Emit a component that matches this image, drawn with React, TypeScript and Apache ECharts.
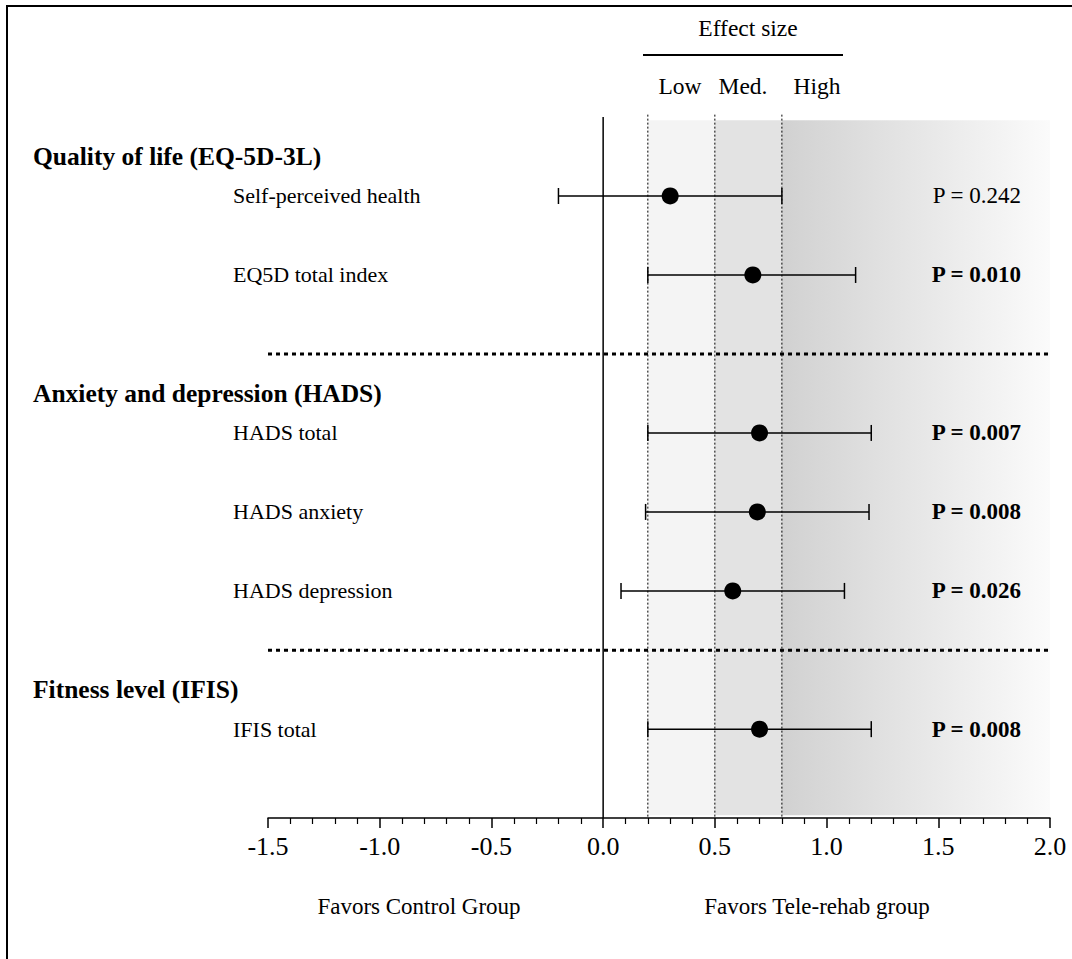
import React, { useEffect, useRef } from "react";
import * as echarts from "echarts";

// ---- data ----
const groupTitles = ["Quality of life (EQ-5D-3L)", "Anxiety and depression (HADS)", "Fitness level (IFIS)"];
const groupRowPos = [0.5, 3.5, 7.25];
const outcomes = ["Self-perceived health", "EQ5D total index", "HADS total", "HADS anxiety", "HADS depression", "IFIS total"];
const rowPos = [1, 2, 4, 5, 6, 7.75];
const separatorPos = [3, 6.75];
const effectSize = [0.30, 0.67, 0.70, 0.69, 0.58, 0.70];
const ciLower = [-0.20, 0.20, 0.20, 0.19, 0.08, 0.20];
const ciUpper = [0.80, 1.13, 1.20, 1.19, 1.08, 1.20];
const pValues = [0.242, 0.010, 0.007, 0.008, 0.026, 0.008];
const thresholds = [0.2, 0.5, 0.8];
const effectBands = [[0.2, 0.5], [0.5, 0.8], [0.8, 2.0]];
const effectLabels = ["Low", "Med.", "High"];
const xMin = -1.5;
const xMax = 2.0;
const xInterval = 0.5;
const yMax = 8.875;
const sideLabels = ["Favors Control Group", "Favors Tele-rehab group"];

const FONT = "'Liberation Serif', 'Times New Roman', Times, serif";

export default function App() {
  const ref = useRef<HTMLDivElement>(null);
  useEffect(() => {
    if (!ref.current) return;
    const chart = echarts.init(ref.current, null, { renderer: "svg" });
    const bandFills = [
      "#f4f4f4",
      "#e3e3e3",
      new echarts.graphic.LinearGradient(0, 0, 1, 0, [
        { offset: 0, color: "#d1d1d1" },
        { offset: 1, color: "#fbfbfb" },
      ]),
    ];
    const txt = (x: number, y: number, text: string, size: number) => ({
      type: "text",
      x,
      y,
      style: { text, fontSize: size, fontFamily: FONT, fill: "#000", align: "center", verticalAlign: "middle" },
    });
    const option: any = {
      animation: false,
      backgroundColor: "#ffffff",
      grid: { left: 268, right: 22, top: 117, bottom: 141 },
      xAxis: {
        type: "value",
        min: xMin,
        max: xMax,
        interval: xInterval,
        splitLine: { show: false },
        axisLine: { show: true, onZero: false, lineStyle: { color: "#000", width: 1.5 } },
        axisTick: { show: true, length: 10, lineStyle: { color: "#000", width: 1.5 } },
        minorTick: { show: true, splitNumber: 5, length: 6, lineStyle: { color: "#000", width: 1.2 } },
        axisLabel: {
          color: "#000",
          fontSize: 26,
          fontFamily: FONT,
          margin: 15,
          formatter: (v: number) => v.toFixed(1),
        },
      },
      yAxis: { type: "value", inverse: true, min: 0, max: yMax, show: false },
      series: [
        {
          type: "custom",
          z: 1,
          silent: true,
          data: effectBands.map((b, i) => [b[0], b[1], i]),
          renderItem: (params: any, api: any) => {
            const p0 = api.coord([api.value(0), 0.04]);
            const p1 = api.coord([api.value(1), 8.84]);
            return {
              type: "rect",
              shape: { x: p0[0], y: p0[1], width: p1[0] - p0[0], height: p1[1] - p0[1] },
              style: { fill: bandFills[params.dataIndex] },
            };
          },
        },
        {
          type: "custom",
          z: 2,
          silent: true,
          data: thresholds.map((t) => [t]),
          renderItem: (params: any, api: any) => {
            const p0 = api.coord([api.value(0), -0.03]);
            const p1 = api.coord([api.value(0), yMax]);
            return {
              type: "line",
              shape: { x1: p0[0], y1: p0[1], x2: p1[0], y2: p1[1] },
              style: { stroke: "#000", lineWidth: 1, lineDash: [2, 2] },
            };
          },
        },
        {
          type: "custom",
          z: 3,
          silent: true,
          data: [[0]],
          renderItem: (params: any, api: any) => {
            const p0 = api.coord([api.value(0), 0]);
            const p1 = api.coord([api.value(0), yMax]);
            return {
              type: "line",
              shape: { x1: p0[0], y1: p0[1], x2: p1[0], y2: p1[1] },
              style: { stroke: "#000", lineWidth: 1.5 },
            };
          },
        },
        {
          type: "custom",
          z: 3,
          silent: true,
          data: separatorPos.map((y) => [y]),
          renderItem: (params: any, api: any) => {
            const p0 = api.coord([xMin, api.value(0)]);
            const p1 = api.coord([xMax, api.value(0)]);
            return {
              type: "line",
              shape: { x1: p0[0], y1: p0[1], x2: p1[0], y2: p1[1] },
              style: { stroke: "#000", lineWidth: 3, lineDash: [4, 4] },
            };
          },
        },
        {
          type: "custom",
          z: 4,
          silent: true,
          data: outcomes.map((_, i) => [ciLower[i], ciUpper[i], rowPos[i]]),
          renderItem: (params: any, api: any) => {
            const y = api.value(2);
            const a = api.coord([api.value(0), y]);
            const b = api.coord([api.value(1), y]);
            const h = 8;
            const st = { stroke: "#000", lineWidth: 1.5 };
            return {
              type: "group",
              children: [
                { type: "line", shape: { x1: a[0], y1: a[1], x2: b[0], y2: b[1] }, style: st },
                { type: "line", shape: { x1: a[0], y1: a[1] - h, x2: a[0], y2: a[1] + h }, style: st },
                { type: "line", shape: { x1: b[0], y1: b[1] - h, x2: b[0], y2: b[1] + h }, style: st },
              ],
            };
          },
        },
        {
          type: "scatter",
          z: 5,
          symbol: "circle",
          symbolSize: 17,
          itemStyle: { color: "#000", opacity: 1 },
          data: effectSize.map((v, i) => [v, rowPos[i]]),
        },
        {
          type: "custom",
          z: 6,
          silent: true,
          data: outcomes.map((_, i) => [xMin, rowPos[i]]),
          renderItem: (params: any, api: any) => {
            const p = api.coord([api.value(0), api.value(1)]);
            return {
              type: "text",
              x: 233,
              y: p[1],
              style: {
                text: outcomes[params.dataIndex],
                fontSize: 22,
                fontFamily: FONT,
                fill: "#000",
                align: "left",
                verticalAlign: "middle",
              },
            };
          },
        },
        {
          type: "custom",
          z: 6,
          silent: true,
          data: groupTitles.map((_, i) => [xMin, groupRowPos[i]]),
          renderItem: (params: any, api: any) => {
            const p = api.coord([api.value(0), api.value(1)]);
            return {
              type: "text",
              x: 33,
              y: p[1],
              style: {
                text: groupTitles[params.dataIndex],
                fontSize: 25.5,
                fontWeight: "bold",
                fontFamily: FONT,
                fill: "#000",
                align: "left",
                verticalAlign: "middle",
              },
            };
          },
        },
        {
          type: "custom",
          z: 6,
          silent: true,
          data: pValues.map((p, i) => [xMax, rowPos[i]]),
          renderItem: (params: any, api: any) => {
            const p = api.coord([api.value(0), api.value(1)]);
            const pv = pValues[params.dataIndex];
            return {
              type: "text",
              x: 1021,
              y: p[1],
              style: {
                text: "P = " + pv.toFixed(3),
                fontSize: 23,
                fontWeight: pv < 0.05 ? "bold" : "normal",
                fontFamily: FONT,
                fill: "#000",
                align: "right",
                verticalAlign: "middle",
              },
            };
          },
        },
      ],
      graphic: [
        {
          type: "rect",
          silent: true,
          shape: { x: 7, y: 6, width: 1200, height: 1100 },
          style: { fill: "none", stroke: "#000", lineWidth: 2 },
        },
        txt(748, 28, "Effect size", 23.5),
        {
          type: "line",
          shape: { x1: 643, y1: 55, x2: 843, y2: 55 },
          style: { stroke: "#000", lineWidth: 2 },
        },
        txt(680, 86, effectLabels[0], 23.5),
        txt(743, 86, effectLabels[1], 23.5),
        txt(817, 86, effectLabels[2], 23.5),
        txt(419, 906, sideLabels[0], 23),
        txt(817, 906, sideLabels[1], 23),
      ],
    };
    chart.setOption(option);
    return () => chart.dispose();
  }, []);
  return (
    <div
      ref={ref}
      style={{ position: "fixed", left: 0, top: 0, width: 1072, height: 959, background: "#fff" }}
    />
  );
}
